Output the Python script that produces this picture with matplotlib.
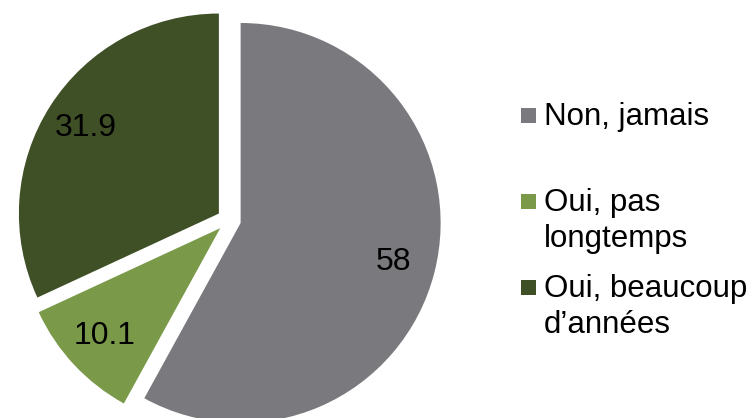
import matplotlib.pyplot as plt
from matplotlib.patches import Rectangle

plt.rcParams['font.family'] = ['Liberation Sans', 'DejaVu Sans']

# données
categories = ["Non, jamais", "Oui, pas\nlongtemps", "Oui, beaucoup\nd\u2019années"]
values = [58, 10.1, 31.9]
value_labels = ["58", "10.1", "31.9"]
colors = ["#7A7A7E", "#7A9A4A", "#3F5027"]

W, H = 754, 418
fig = plt.figure(figsize=(W / 100, H / 100), dpi=100)

# axes de la tarte : rayon 200 px, centre (229, 220) px
R = 200
cx, cy = 229, 220
half = 1.1
ax = fig.add_axes([(cx - half * R) / W, (H - cy - half * R) / H,
                   2 * half * R / W, 2 * half * R / H])
wedges, texts, autotexts = ax.pie(
    values,
    colors=colors,
    startangle=90,
    counterclock=False,
    explode=[0.06] * len(values),
    autopct="%s",
    pctdistance=0.79,
    wedgeprops=dict(linewidth=0),
    textprops=dict(fontsize=23, color="black"),
)
for t, lab in zip(autotexts, value_labels):
    t.set_text(lab)
ax.set_xlim(-half, half)
ax.set_ylim(-half, half)
ax.set_aspect("equal")
ax.axis("off")

# légende manuelle
leg_y = [125, 211, 297]  # lignes de base de la 1re ligne (px depuis le haut)
line_h = 36
for lab, col, yb in zip(categories, colors, leg_y):
    fig.patches.append(Rectangle((521 / W, (H - yb + 2) / H), 15 / W, 15 / H,
                                 transform=fig.transFigure, facecolor=col,
                                 edgecolor="none"))
    for i, line in enumerate(lab.split("\n")):
        fig.text(544 / W, (H - yb - i * line_h) / H, line, fontsize=22.5,
                 va="baseline", ha="left")

fig.savefig("out.png", dpi=100)
